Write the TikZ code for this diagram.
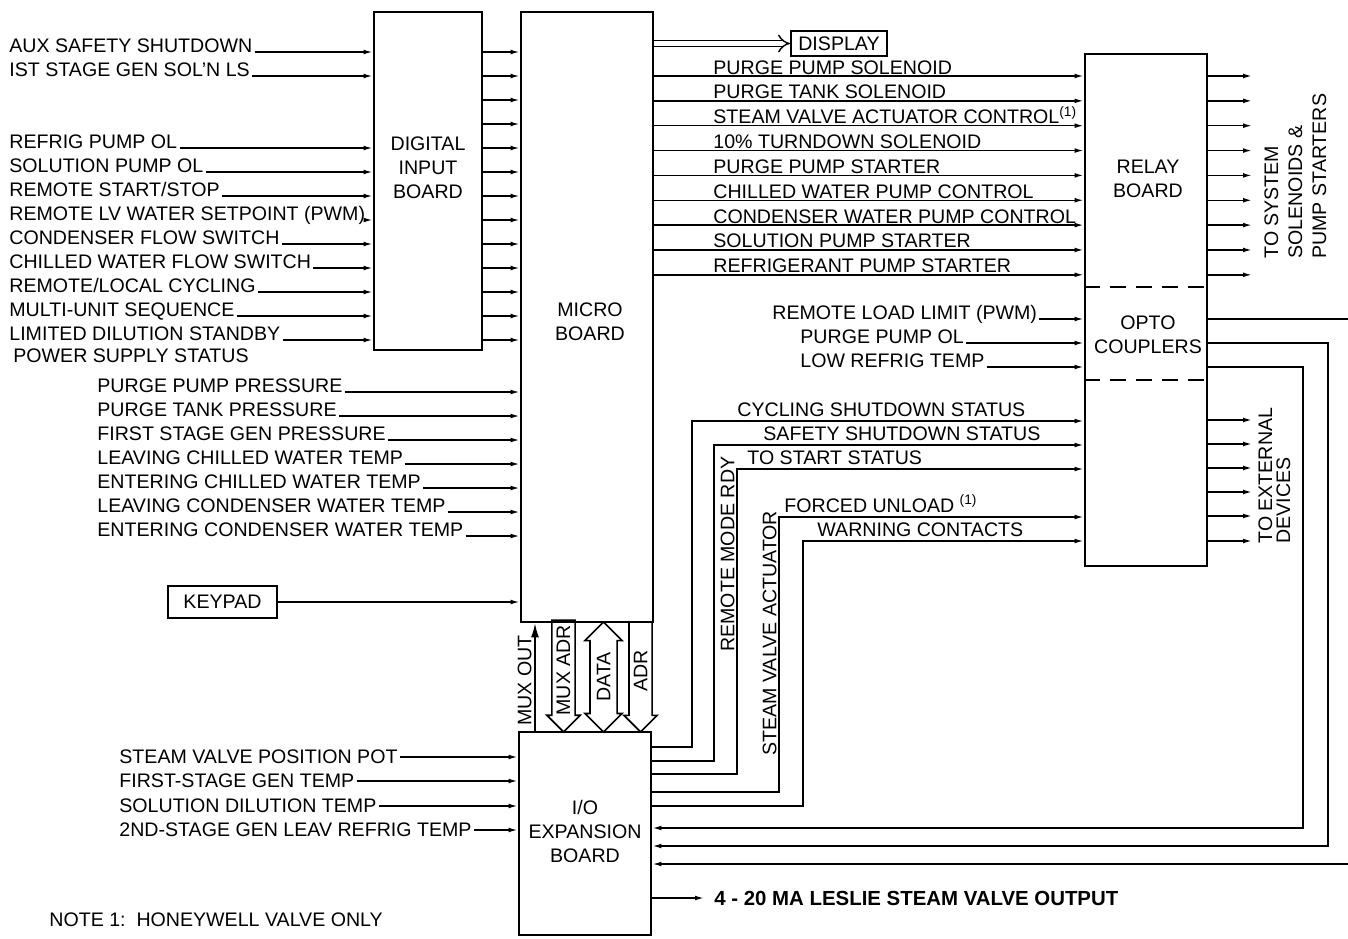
\documentclass[tikz,border=0pt]{standalone}
\usepackage{fontspec}
\setmainfont{Liberation Sans}
\usetikzlibrary{positioning,arrows.meta,shapes.arrows}

\begin{document}
\begin{tikzpicture}[
  x=0.5pt, y=-0.5pt,
  font=\fontsize{9.8}{12}\selectfont,
  board/.style={draw, line width=1.4pt, inner sep=0pt},
  smallbox/.style={draw, line width=1pt, inner sep=0pt},
  txt/.style={inner sep=1pt, align=center},
  lbl/.style={inner sep=1pt},
  vlbl/.style={inner sep=1pt, rotate=90, anchor=south west},
  wire/.style={line width=0.75pt, -{Latex[length=4.5pt,width=2.4pt]}},
  plain/.style={line width=0.75pt},
  divider/.style={line width=1.1pt, dash pattern=on 8pt off 5pt},
  bus/.style={draw, line width=0.8pt, single arrow, single arrow head extend=2.5pt,
              single arrow tip angle=90, minimum height=55pt, inner sep=2pt,
              shape border rotate=180, rotate=90},
  dbus/.style={draw, line width=0.8pt, double arrow, double arrow head extend=2.5pt,
              double arrow tip angle=90, minimum height=55pt, inner sep=3pt, rotate=90},
]
\useasboundingbox (0,0) rectangle (1348,938);

% ---- Boards
\node[board, minimum width=54pt, minimum height=169pt] (dib) at (428,181) {};
\node[board, minimum width=66pt, minimum height=305pt] (micro) at (587,317) {};
\node[board, minimum width=66pt, minimum height=101.5pt] (io) at (585,833.5) {};
\node[board, minimum width=61pt, minimum height=256pt] (relay) at (1146,310) {};
\node[smallbox, minimum width=48pt, minimum height=12.5pt] (disp) at (839,43.5) {DISPLAY};
\node[smallbox, minimum width=54.5pt, minimum height=16pt] (keypad) at (222.5,602) {KEYPAD};

\node[txt] (dibname) at (428,168) {DIGITAL\\INPUT\\BOARD};
\node[txt] (microname) at (590,322) {MICRO\\BOARD};
\node[txt] (ioname) at (585,831) {I/O\\EXPANSION\\BOARD};
\node[txt] (relayname) at (1148,179) {RELAY\\BOARD};
\node[txt] (optoname) at (1148,335) {OPTO\\COUPLERS};

% ---- Opto section of relay board
\coordinate (div1) at (0,287);
\coordinate (div2) at (0,380);
\draw[divider] (relay.west |- div1) -- (relay.east |- div1);
\draw[divider] (relay.west |- div2) -- (relay.east |- div2);

% ---- Digital inputs
\foreach \r in {0,...,12}{
  \coordinate (row\r) at (0,{52+24*\r});
  \draw[wire] (dib.east |- row\r) -- (micro.west |- row\r);
}
\foreach \r/\name in {0/AUX SAFETY SHUTDOWN, 1/{IST STAGE GEN SOL'N LS},
    4/REFRIG PUMP OL, 5/SOLUTION PUMP OL, 6/{REMOTE START/STOP},
    7/REMOTE LV WATER SETPOINT (PWM), 8/CONDENSER FLOW SWITCH,
    9/CHILLED WATER FLOW SWITCH, 10/{REMOTE/LOCAL CYCLING},
    11/MULTI-UNIT SEQUENCE, 12/LIMITED DILUTION STANDBY}{
  \node[lbl, anchor=base west] (din\r) at (7,{52+24*\r}) {\name};
  \draw[wire] (din\r.base east) -- (dib.west |- din\r.base);
}
\node[lbl, anchor=base west] (psu) at (11,362) {POWER SUPPLY STATUS};

% ---- Analog inputs to micro board
\foreach \name [count=\i from 0] in {PURGE PUMP PRESSURE, PURGE TANK PRESSURE,
    FIRST STAGE GEN PRESSURE, LEAVING CHILLED WATER TEMP, ENTERING CHILLED WATER TEMP,
    LEAVING CONDENSER WATER TEMP, ENTERING CONDENSER WATER TEMP}{
  \node[lbl, anchor=base west] (min\i) at (95,{392+24*\i}) {\name};
  \draw[wire] (min\i.base east) -- (micro.west |- min\i.base);
}
\draw[wire] (keypad.east) -- (micro.west |- keypad.east);

% ---- Display
\draw[line width=0.7pt, double, double distance=2.4pt, -{Implies}] (micro.east |- disp.west) -- (disp.west);

% ---- Relay outputs
\foreach \name [count=\i from 0] in {PURGE PUMP SOLENOID, PURGE TANK SOLENOID,
    STEAM VALVE ACTUATOR CONTROL\textsuperscript{(1)}, 10\% TURNDOWN SOLENOID,
    PURGE PUMP STARTER, CHILLED WATER PUMP CONTROL, CONDENSER WATER PUMP CONTROL,
    SOLUTION PUMP STARTER, REFRIGERANT PUMP STARTER}{
  \coordinate (rl\i) at (0,{76+24.85*\i});
  \coordinate (sysout\i) at (1252,{76+24.85*\i});
  \node[lbl, anchor=base west] (rin\i) at (711,{74+24.85*\i}) {\name};
  \draw[wire] (micro.east |- rl\i) -- (relay.west |- rl\i);
  \draw[wire] (relay.east |- sysout\i) -- (sysout\i);
}
\node[lbl, rotate=90, anchor=north west, align=left] (sysname) at (1262,261)
  {TO SYSTEM\\SOLENOIDS \&\\PUMP STARTERS};

% ---- Opto couplers
\foreach \name/\xx/\yy [count=\i] in {REMOTE LOAD LIMIT (PWM)/770/319,
    PURGE PUMP OL/798/343, LOW REFRIG TEMP/798/367}{
  \node[lbl, anchor=base west] (oin\i) at (\xx,\yy) {\name};
  \draw[wire] (oin\i.base east) -- (relay.west |- oin\i.base);
}
\coordinate (offr1) at (1348,319);
\coordinate (loop2) at (1328,343);
\coordinate (loop3) at (1303,367);
\coordinate (iob2) at (0,846);
\coordinate (iob3) at (0,828);
\coordinate (offr2) at (1348,864);
\draw[plain] (relay.east |- offr1) -- (offr1);
\draw[wire] (relay.east |- loop2) -- (loop2) -- (loop2 |- iob2) -- (io.east |- iob2);
\draw[wire] (relay.east |- loop3) -- (loop3) -- (loop3 |- iob3) -- (io.east |- iob3);
\draw[wire] (offr2) -- (io.east |- offr2);

% ---- Status lines from I/O board
\foreach \name/\xx/\ya/\yb/\tx [count=\i] in {CYCLING SHUTDOWN STATUS/692/421/747/735,
    SAFETY SHUTDOWN STATUS/714/445/761/761, TO START STATUS/737/469/774/745,
    FORCED UNLOAD \textsuperscript{(1)}/779/517/792/782, WARNING CONTACTS/803/541/806/815}{
  \coordinate (st\i) at (\xx,\ya);
  \coordinate (sb\i) at (\xx,\yb);
  \draw[wire] (io.east |- sb\i) -- (sb\i) -- (st\i) -- (relay.west |- st\i);
  \node[lbl, anchor=base west] (stl\i) at (\tx,{\ya-5}) {\name};
}
\node[vlbl] (rdyname) at (737,654) {REMOTE MODE RDY};
\node[vlbl] (actname) at (779,758) {STEAM VALVE ACTUATOR};

% ---- To external devices
\foreach \yy [count=\i] in {420,444,468,492,516,541}{
  \coordinate (ext\i) at (1252,\yy);
  \draw[wire] (relay.east |- ext\i) -- (ext\i);
}
\node[lbl, rotate=90, anchor=north west, align=left, font=\fontsize{9.8}{9}\selectfont]
  (extname) at (1256,546) {TO EXTERNAL\\DEVICES};

% ---- Buses between micro board and I/O board
\coordinate (muxout) at (535,0);
\draw[line width=0.75pt, -{Latex[length=7pt,width=4pt]}] (io.north -| muxout) -- (micro.south -| muxout);
\node[vlbl] (muxoutname) at (534,728) {MUX OUT};
\node[bus, anchor=tip] (muxadr) at (563.5,733) {MUX ADR};
\node[dbus] (data) at (603.5,677) {DATA};
\node[bus, anchor=tip] (adr) at (640.5,733) {ADR};

% ---- I/O board inputs and output
\foreach \name/\yy [count=\i] in {STEAM VALVE POSITION POT/757, FIRST-STAGE GEN TEMP/781,
    SOLUTION DILUTION TEMP/806, 2ND-STAGE GEN LEAV REFRIG TEMP/830}{
  \node[lbl, anchor=west] (ioin\i) at (117,\yy) {\name};
  \draw[wire] (ioin\i.east) -- (io.west |- ioin\i.east);
}
\node[anchor=west, inner xsep=5pt, font=\fontsize{10.2}{12}\selectfont\bfseries]
  (leslie) at (704,898) {4 - 20 MA LESLIE STEAM VALVE OUTPUT};
\draw[wire] (io.east |- leslie.west) -- (leslie.west);

\node[lbl, anchor=west] (note) at (47,920) {NOTE 1:\ \ HONEYWELL VALVE ONLY};
\end{tikzpicture}
\end{document}
